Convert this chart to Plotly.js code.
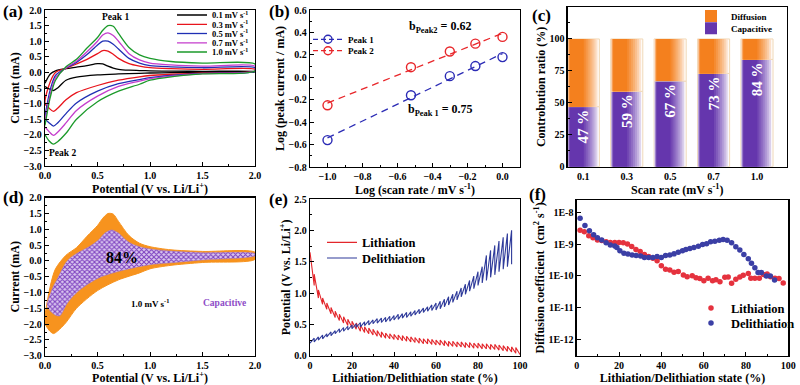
<!DOCTYPE html>
<html><head><meta charset="utf-8">
<script src="https://cdn.plot.ly/plotly-3.0.1.min.js"></script>
<style>html,body{margin:0;padding:0;background:#fff}#chart{width:800px;height:385px}</style>
</head><body><div id="chart"></div>
<script>
// ---------- (a) CV curves at different scan rates ----------
const scanLabels = ['0.1', '0.3', '0.5', '0.7', '1.0'];
const cvUpV = [0, 0.05, 0.1, 0.2, 0.3, 0.4, 0.5, 0.55, 0.6, 0.65, 0.7, 0.8, 0.9, 1.0, 1.2, 1.5, 2.0];
const cvUp01 = [-0.35, -0.05, 0.05, 0.12, 0.17, 0.22, 0.28, 0.27, 0.2, 0.14, 0.1, 0.07, 0.06, 0.05, 0.04, 0.035, 0.03];
const cvUp03 = [-1.0, -0.3, 0.0, 0.13, 0.27, 0.42, 0.6, 0.7, 0.68, 0.58, 0.45, 0.28, 0.2, 0.15, 0.12, 0.1, 0.1];
const cvUp05 = [-1.4, -0.55, -0.1, 0.14, 0.32, 0.57, 0.88, 1.0, 1.0, 0.9, 0.75, 0.45, 0.3, 0.22, 0.18, 0.15, 0.15];
const cvUp07 = [-1.55, -0.7, -0.18, 0.15, 0.36, 0.66, 1.0, 1.2, 1.27, 1.18, 1.0, 0.6, 0.4, 0.3, 0.24, 0.2, 0.2];
const cvUp10 = [-1.7, -0.8, -0.25, 0.18, 0.42, 0.78, 1.12, 1.35, 1.5, 1.48, 1.25, 0.8, 0.56, 0.45, 0.35, 0.3, 0.27];
const cvLoV = [2.0, 1.5, 1.2, 1.0, 0.9, 0.7, 0.5, 0.3, 0.2, 0.12, 0.08, 0.04, 0];
const cvLo01 = [0.02, 0.0, -0.01, -0.02, -0.03, -0.05, -0.08, -0.15, -0.25, -0.5, -0.58, -0.53, -0.45];
const cvLo03 = [0.04, -0.02, -0.06, -0.1, -0.14, -0.25, -0.42, -0.65, -0.88, -1.15, -1.25, -1.15, -1.0];
const cvLo05 = [0.04, -0.03, -0.1, -0.17, -0.23, -0.36, -0.6, -0.98, -1.32, -1.62, -1.72, -1.62, -1.5];
const cvLo07 = [0.05, -0.04, -0.12, -0.2, -0.28, -0.45, -0.76, -1.22, -1.62, -1.92, -2.02, -1.9, -1.75];
const cvLo10 = [0.05, -0.05, -0.14, -0.25, -0.38, -0.6, -0.94, -1.5, -1.95, -2.22, -2.3, -2.2, -2.0];

// ---------- (b) log peak current vs log scan rate ----------
const logRate = [-1.0, -0.523, -0.301, -0.155, 0.0];
const logPeak1 = [-0.56, -0.16, 0.01, 0.10, 0.18];
const logPeak2 = [-0.25, 0.09, 0.23, 0.30, 0.36];

// ---------- (c) contribution ratio ----------
const rateCats = ['0.1', '0.3', '0.5', '0.7', '1.0'];
const capPct = [47, 59, 67, 73, 84];
const diffPct = [53, 41, 33, 27, 16];

// ---------- (d) capacitive region at 1.0 mV/s ----------
const capUpV = [0.02, 0.05, 0.08, 0.11, 0.15, 0.2, 0.25, 0.33, 0.42, 0.51, 0.57, 0.635, 0.7, 0.75, 0.82, 0.9, 1.0, 1.2, 1.5, 2.0];
const capUpI = [-1.35, -1.05, -0.8, -0.62, -0.35, -0.05, 0.12, 0.29, 0.45, 0.66, 0.88, 0.98, 0.88, 0.72, 0.55, 0.45, 0.38, 0.31, 0.26, 0.23];
const capLoV = [2.0, 1.5, 1.17, 1.0, 0.75, 0.51, 0.33, 0.25, 0.2, 0.17, 0.14, 0.1, 0.06, 0.02];
const capLoI = [0.16, 0.03, -0.07, -0.12, -0.29, -0.54, -0.92, -1.18, -1.4, -1.6, -1.74, -1.72, -1.62, -1.45];

// ---------- (e) GITT profiles ----------
const liState = [0,2,4,6,8,10,12,14,16,18,20,22,24,26,28,30,32,34,36,38,40,42,44,46,48,50,52,54,56,58,60,62,64,66,68,70,72,74,76,78,80,82,84,86,88,90,92,94,96,98,100];
const liPulse = [1.65,1.12,0.92,0.82,0.74,0.67,0.61,0.56,0.52,0.48,0.45,0.42,0.39,0.37,0.35,0.33,0.31,0.29,0.28,0.27,0.26,0.25,0.24,0.23,0.22,0.21,0.2,0.19,0.19,0.18,0.17,0.17,0.16,0.15,0.15,0.14,0.14,0.13,0.13,0.12,0.12,0.11,0.11,0.1,0.1,0.09,0.08,0.07,0.06,0.04,0.02];
const liRelax = [1.65,1.3,1.05,0.92,0.84,0.77,0.71,0.66,0.62,0.58,0.55,0.52,0.49,0.46,0.44,0.42,0.4,0.38,0.36,0.35,0.34,0.33,0.32,0.31,0.3,0.29,0.28,0.27,0.27,0.26,0.25,0.25,0.24,0.23,0.23,0.22,0.22,0.21,0.21,0.2,0.2,0.19,0.19,0.18,0.18,0.17,0.16,0.15,0.14,0.13,0.02];
const deState = [0,2,4,6,8,10,12,14,16,18,20,22,24,26,28,30,32,34,36,38,40,42,44,46,48,50,52,54,56,58,60,62,64,66,68,70,72,74,76,78,80,82,84,86,88,90,92,94,96];
const dePulse = [0.2,0.28,0.3,0.33,0.35,0.38,0.4,0.43,0.45,0.47,0.49,0.51,0.53,0.54,0.56,0.57,0.59,0.6,0.61,0.63,0.64,0.66,0.67,0.69,0.7,0.72,0.74,0.76,0.78,0.81,0.84,0.87,0.9,0.94,0.98,1.03,1.08,1.14,1.2,1.27,1.34,1.42,1.6,1.68,1.76,1.83,1.89,1.95,2.0];
const deRelax = [0.2,0.22,0.25,0.27,0.3,0.32,0.35,0.37,0.39,0.41,0.43,0.45,0.46,0.48,0.49,0.51,0.52,0.53,0.54,0.55,0.57,0.58,0.6,0.61,0.63,0.65,0.67,0.69,0.71,0.72,0.73,0.75,0.78,0.81,0.85,0.89,0.94,0.98,1.03,1.07,1.12,1.16,1.2,1.25,1.29,1.34,1.38,1.42,1.46];

// ---------- (f) diffusion coefficients ----------
const fLiState = [1.6,3.6,5.7,7.7,9.8,11.8,13.9,15.9,18,20,22,24,26,28,30,32,34,36,38,40,42,44,46,48,50.4,52.2,54.6,56.4,58.2,60.1,62.1,64.2,65.8,67.7,70,71.6,73.2,75.2,77.1,78.7,81.1,82.3,84.2,86.3,88.2,90,91.6,93.7,95.6,97.6];
const fLiD = [2.8e-9,2.5e-9,1.86e-9,1.62e-9,1.38e-9,1.32e-9,1.2e-9,1.15e-9,1.15e-9,1.15e-9,1.12e-9,1.02e-9,8.5e-10,6.9e-10,5.9e-10,4.8e-10,4.1e-10,3.6e-10,3.0e-10,2.1e-10,1.62e-10,1.55e-10,1.32e-10,1.38e-10,1.07e-10,9.5e-11,1.02e-10,8.7e-11,8.3e-11,7.1e-11,8.5e-11,7.1e-11,7.6e-11,6.5e-11,9.1e-11,9.3e-11,5.9e-11,7.9e-11,9.3e-11,1.05e-10,1.2e-10,8.5e-11,8.5e-11,8.5e-11,1.12e-10,1.15e-10,9.5e-11,8.5e-11,8.3e-11,6.0e-11];
const fDeState = [1.6,3.9,6,8,9.8,11.8,13.9,15.9,18,19,20.4,22.3,24.2,26.2,28.1,30.2,32,34,36,38,40,42,44,46,48,50,51.6,53.5,55.4,57.5,59.5,61.4,63.3,65.3,67.4,69.2,71.1,73.2,75.2,77.1,79,81.1,82.6,84.2,85.7,87.3,89.6,91.5,93.5];
const fDeD = [6.6e-9,3.9e-9,2.7e-9,2.0e-9,1.62e-9,1.38e-9,1.12e-9,9.5e-10,8.9e-10,7.9e-10,6.2e-10,5.2e-10,4.9e-10,4.6e-10,4.4e-10,4.3e-10,3.8e-10,3.8e-10,3.8e-10,4.1e-10,3.8e-10,4.4e-10,4.6e-10,5.0e-10,5.6e-10,6.3e-10,6.9e-10,7.4e-10,7.9e-10,8.7e-10,9.8e-10,1.05e-9,1.2e-9,1.26e-9,1.35e-9,1.41e-9,1.35e-9,1.12e-9,8.3e-10,6.6e-10,4.8e-10,3.5e-10,2.5e-10,1.82e-10,1.29e-10,1.29e-10,1.0e-10,1.0e-10,7.4e-11];

// ================= drawing =================
const FONT = 'Liberation Serif, Times New Roman, serif';
const W = 800, H = 385;
const dx = (l, r) => [l / W, r / W];
const dy = (t, b) => [(H - b) / H, (H - t) / H];
const tickFont = {family: FONT, size: 10, color: '#000', weight: 700};
const titleFont = {family: FONT, size: 12, color: '#000', weight: 700};
const cvColors = ['#000000', '#e8141c', '#1f2fb4', '#c43dcc', '#1b9a2a'];

function axis(domain, anchor, opts) {
  return Object.assign({
    domain, anchor, showgrid: false, zeroline: false, showline: true, linecolor: '#000', linewidth: 1.3,
    mirror: true, ticks: 'inside', ticklen: 4, tickwidth: 1, tickcolor: '#000', tickfont: tickFont
  }, opts);
}
function minor(d) { return {ticks: 'inside', ticklen: 2, tickcolor: '#000', dtick: d}; }
function leg(x, y, size, extra) {
  return Object.assign({x: x / W, y: 1 - y / H, xanchor: 'left', yanchor: 'middle', bgcolor: 'rgba(0,0,0,0)',
    borderwidth: 0, itemwidth: 30, tracegroupgap: 0, font: {family: FONT, size, color: '#000', weight: 700}}, extra || {});
}
function mix(c1, c2, t) {
  const a = [1, 3, 5].map(i => parseInt(c1.substr(i, 2), 16)), b = [1, 3, 5].map(i => parseInt(c2.substr(i, 2), 16));
  return 'rgb(' + a.map((v, i) => Math.round(v + (b[i] - v) * t)).join(',') + ')';
}

const traces = [];
// (a)
const aUp = [cvUp01, cvUp03, cvUp05, cvUp07, cvUp10];
const aLo = [cvLo01, cvLo03, cvLo05, cvLo07, cvLo10];
scanLabels.forEach((lab, i) => {
  traces.push({type: 'scatter', mode: 'lines', x: cvUpV.concat(cvLoV), y: aUp[i].concat(aLo[i]),
    line: {color: cvColors[i], width: 1.3, shape: 'spline', smoothing: 0.8},
    name: lab + ' mV s<sup>-1</sup>', legend: i === 0 ? 'legend' : 'legend' + (i + 1), xaxis: 'x', yaxis: 'y', hoverinfo: 'skip'});
});

// (b)
function linfit(x, y) {
  const n = x.length, mx = x.reduce((a, b) => a + b) / n, my = y.reduce((a, b) => a + b) / n;
  let sxy = 0, sxx = 0;
  for (let i = 0; i < n; i++) { sxy += (x[i] - mx) * (y[i] - my); sxx += (x[i] - mx) ** 2; }
  const m = sxy / sxx; return {m, b: my - m * mx};
}
const fit1 = linfit(logRate, logPeak1), fit2 = linfit(logRate, logPeak2);
const xEnds = [Math.min(...logRate), Math.max(...logRate)];
[[logPeak1, fit1, '#2b2bb5', 'Peak 1', 'legend6'], [logPeak2, fit2, '#e8262a', 'Peak 2', 'legend7']].forEach(([ys, f, c, nm, lg]) => {
  traces.push({type: 'scatter', mode: 'lines', x: xEnds, y: xEnds.map(v => f.m * v + f.b), line: {color: c, width: 1.3, dash: '7px,5px'},
    showlegend: false, xaxis: 'x2', yaxis: 'y2', hoverinfo: 'skip'});
  traces.push({type: 'scatter', mode: 'markers', x: logRate, y: ys, marker: {symbol: 'circle-open', size: 9, color: c, line: {width: 1.4, color: c}},
    showlegend: false, xaxis: 'x2', yaxis: 'y2', hoverinfo: 'skip'});
  traces.push({type: 'scatter', mode: 'lines+markers', x: [null], y: [null], name: nm, legend: lg,
    line: {color: c, width: 1.3, dash: '5px,3px'}, marker: {symbol: 'circle-open', size: 8, color: c, line: {width: 1.4, color: c}},
    xaxis: 'x2', yaxis: 'y2', hoverinfo: 'skip'});
});

// (c) gradient-like bars built from overlaid layers (white edges, saturated core)
const NL = 9;
const purpleCore = '#6536ad', orangeCore = '#f4801e';
for (let k = 0; k < NL; k++) {
  const t = k / (NL - 1);
  const w = 0.74 - 0.42 * t, off = -0.37 + 0.06 * t;
  const col = mix('#ffffff', purpleCore, Math.pow(t, 0.7));
  traces.push({type: 'bar', x: rateCats, y: capPct, width: w, offset: off, xaxis: 'x3', yaxis: 'y3',
    marker: {color: k === 0 ? '#fbf9fd' : col, line: {width: k === 0 ? 1 : 0, color: '#f0d9b8'}},
    name: 'Capacitive', showlegend: k === NL - 1, legend: 'legend9', hoverinfo: 'skip'});
}
for (let k = 0; k < NL; k++) {
  const t = k / (NL - 1);
  const w = 0.74 - 0.42 * t, off = -0.37 + 0.06 * t;
  const col = mix('#ffffff', orangeCore, Math.pow(t, 0.7));
  traces.push({type: 'bar', x: rateCats, y: diffPct, base: capPct, width: w, offset: off, xaxis: 'x3', yaxis: 'y3',
    marker: {color: k === 0 ? '#fffaf5' : col, line: {width: k === 0 ? 1 : 0, color: '#f0d9b8'}},
    name: 'Diffusion', showlegend: k === NL - 1, legend: 'legend8', hoverinfo: 'skip'});
}
traces.push({type: 'bar', x: rateCats, y: capPct, width: 0.74, offset: -0.37, xaxis: 'x3', yaxis: 'y3',
  marker: {color: 'rgba(0,0,0,0)'}, text: capPct.map(v => v + ' %'), textposition: 'inside', insidetextanchor: 'end',
  textangle: -90, constraintext: 'none', textfont: {family: FONT, size: 15, color: '#ffffff', weight: 700},
  showlegend: false, hoverinfo: 'skip'});

// (d)
traces.push({type: 'scatter', mode: 'lines', x: cvUpV.concat(cvLoV), y: cvUp10.concat(cvLo10), fill: 'toself',
  fillcolor: '#f7931e', line: {color: '#f7931e', width: 1, shape: 'spline', smoothing: 0.8},
  showlegend: false, xaxis: 'x4', yaxis: 'y4', hoverinfo: 'skip'});
traces.push({type: 'scatter', mode: 'lines', x: capUpV.concat(capLoV), y: capUpI.concat(capLoI), fill: 'toself',
  fillcolor: '#c3a3e4', fillpattern: {shape: 'x', size: 3.5, solidity: 0.5, fgcolor: '#7c3fbf', bgcolor: '#dccaf0'},
  line: {color: '#a47fd0', width: 0.5, shape: 'spline', smoothing: 0.8},
  showlegend: false, xaxis: 'x4', yaxis: 'y4', hoverinfo: 'skip'});

// (e)
function gitt(state, pulse, relax) {
  const x = [], y = [];
  for (let i = 0; i < state.length; i++) { x.push(state[i], state[i]); y.push(pulse[i], relax[i]); }
  return {x, y};
}
const gLi = gitt(liState, liPulse, liRelax), gDe = gitt(deState, dePulse, deRelax);
traces.push({type: 'scatter', mode: 'lines', x: gLi.x, y: gLi.y, line: {color: '#e3262b', width: 1.1},
  name: 'Lithiation', legend: 'legend10', xaxis: 'x5', yaxis: 'y5', hoverinfo: 'skip'});
traces.push({type: 'scatter', mode: 'lines', x: gDe.x, y: gDe.y, line: {color: '#2e3a9a', width: 1.1},
  name: 'Delithiation', legend: 'legend11', xaxis: 'x5', yaxis: 'y5', hoverinfo: 'skip'});

// (f)
traces.push({type: 'scatter', mode: 'markers', x: fLiState, y: fLiD, marker: {color: '#e5323e', size: 5.5},
  name: 'Lithiation', legend: 'legend12', xaxis: 'x6', yaxis: 'y6', hoverinfo: 'skip'});
traces.push({type: 'scatter', mode: 'markers', x: fDeState, y: fDeD, marker: {color: '#3b3fa5', size: 5.5},
  name: 'Delithiation', legend: 'legend13', xaxis: 'x6', yaxis: 'y6', hoverinfo: 'skip'});

const potTitle = 'Potential (V vs. Li/Li<sup>+</sup>)';
const stateTitle = 'Lithiation/Delithiation state (%)';
function ttl(text, standoff) { return {text, font: titleFont, standoff}; }

const layout = {
  width: W, height: H, margin: {l: 0, r: 0, t: 0, b: 0}, paper_bgcolor: '#fff', plot_bgcolor: 'rgba(0,0,0,0)',
  hovermode: false, barmode: 'overlay', font: {family: FONT, color: '#000'},
  xaxis: axis(dx(45, 255), 'y', {range: [0, 2], dtick: 0.5, tickformat: '.1f', minor: minor(0.25), title: ttl(potTitle, 2)}),
  yaxis: axis(dy(10, 166), 'x', {range: [-3, 2], dtick: 0.5, tickformat: '.1f', minor: minor(0.25), title: ttl('Current (mA)', 1)}),
  xaxis2: axis(dx(310, 520), 'y2', {range: [-1.1, 0.1], dtick: 0.2, tick0: 0, tickformat: '.1f', minor: minor(0.1), title: ttl('Log (scan rate / mV s<sup>-1</sup>)', 2)}),
  yaxis2: axis(dy(10, 167), 'x2', {range: [-0.8, 0.6], dtick: 0.2, tick0: 0, tickformat: '.1f', minor: minor(0.1), title: ttl('Log (peak current / mA)', 1)}),
  xaxis3: axis(dx(567.7, 786.7), 'y3', {type: 'category', range: [-0.36, 4.685], ticks: '', title: ttl('Scan rate (mV s<sup>-1</sup>)', 2)}),
  yaxis3: axis(dy(7, 166.7), 'x3', {range: [0, 125], tickvals: [0, 25, 50, 75, 100], minor: {ticks: 'inside', ticklen: 2, tickcolor: '#000', tickvals: [12.5, 37.5, 62.5, 87.5, 112.5]}, title: ttl('Controbution ratio (%)', 1)}),
  xaxis4: axis(dx(45, 255), 'y4', {range: [0, 2], dtick: 0.5, tickformat: '.1f', minor: minor(0.25), title: ttl(potTitle, 2)}),
  yaxis4: axis(dy(197.7, 355.7), 'x4', {range: [-3, 2], dtick: 0.5, tickformat: '.1f', minor: minor(0.25), title: ttl('Current (mA)', 1)}),
  xaxis5: axis(dx(310, 520), 'y5', {range: [0, 100], dtick: 20, minor: minor(10), title: ttl(stateTitle, 2)}),
  yaxis5: axis(dy(199, 355.7), 'x5', {range: [0, 2.5], dtick: 0.5, tickformat: '.1f', minor: minor(0.25), title: ttl(potTitle, 1)}),
  xaxis6: axis(dx(576.7, 788.3), 'y6', {range: [0, 100], dtick: 20, minor: minor(10), title: ttl(stateTitle, 2)}),
  yaxis6: axis(dy(200, 355.7), 'x6', {type: 'log', range: [-12.52, -7.6], tickvals: [1e-12, 1e-11, 1e-10, 1e-9, 1e-8],
    ticktext: ['1E-12', '1E-11', '1E-10', '1E-9', '1E-8'], title: ttl('Diffusion coefficient  (cm<sup>2</sup> s<sup>-1</sup>)', 1)}),
  legend: leg(172, 15, 8.5), legend2: leg(172, 24.3, 8.5), legend3: leg(172, 33.5, 8.5), legend4: leg(172, 42.8, 8.5), legend5: leg(172, 52, 8.5),
  legend6: leg(308, 39.3, 9), legend7: leg(308, 50.7, 9),
  legend8: leg(691, 16, 9), legend9: leg(691, 28.3, 9),
  legend10: leg(322, 242.7, 12.5), legend11: leg(322, 258.3, 12.5),
  legend12: leg(691, 308.3, 12.5), legend13: leg(691, 323.3, 12.5),
  annotations: []
};

const ann = layout.annotations;
function panel(t, x, y) { ann.push({text: t, xref: 'paper', yref: 'paper', x: x / W, y: 1 - y / H, showarrow: false, xanchor: 'center', yanchor: 'middle', font: {family: FONT, size: 17, color: '#000', weight: 700}}); }
panel('(a)', 13, 11); panel('(b)', 279, 11); panel('(c)', 541, 15);
panel('(d)', 13, 198); panel('(e)', 278, 200); panel('(f)', 537, 195);
function dtext(t, xr, yr, x, y, size, color) { ann.push({text: t, xref: xr, yref: yr, x, y, showarrow: false, xanchor: 'center', yanchor: 'middle', font: {family: FONT, size, color: color || '#000', weight: 700}}); }
dtext('Peak 1', 'x', 'y', 0.667, 1.78, 9.5);
dtext('Peak 2', 'x', 'y', 0.167, -2.58, 9.5);
dtext('b<sub>Peak2</sub> = ' + fit2.m.toFixed(2), 'paper', 'paper', 440 / W, 1 - 27 / H, 12);
dtext('b<sub>Peak 1</sub> = ' + fit1.m.toFixed(2), 'paper', 'paper', 440 / W, 1 - 110 / H, 12);
dtext(capPct[capPct.length - 1] + '%', 'x4', 'y4', 0.73, 0.1, 16);
dtext('1.0 mV s<sup>-1</sup>', 'x4', 'y4', 1.0, -1.34, 9);
dtext('Capacitive', 'x4', 'y4', 1.71, -1.34, 9.5, '#8e4cc7');

Plotly.newPlot('chart', traces, layout, {staticPlot: true, displayModeBar: false});
</script>
</body></html>
